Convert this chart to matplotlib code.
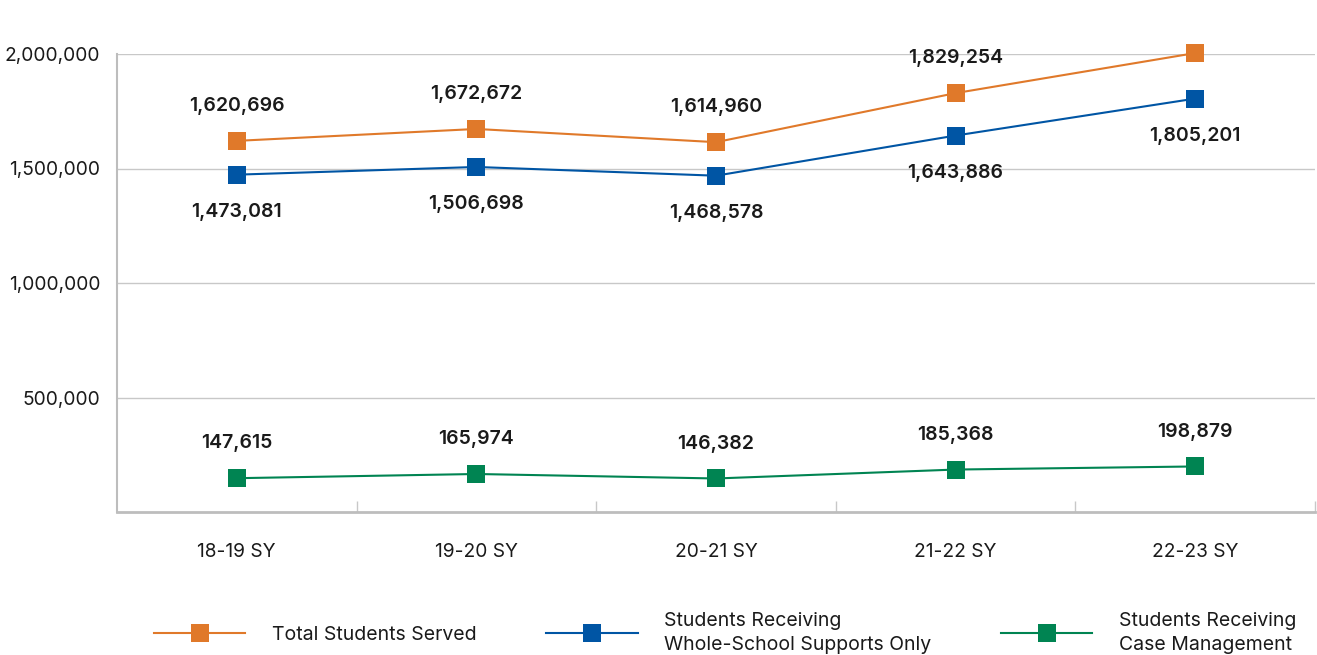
import matplotlib
matplotlib.use("Agg")
import matplotlib.pyplot as plt
from matplotlib.ticker import FuncFormatter, FixedLocator

plt.rcParams['font.family'] = ['Inter', 'DejaVu Sans']

categories = ["18-19 SY", "19-20 SY", "20-21 SY", "21-22 SY", "22-23 SY"]
total_served = [1620696, 1672672, 1614960, 1829254, 2004080]
whole_school = [1473081, 1506698, 1468578, 1643886, 1805201]
case_mgmt = [147615, 165974, 146382, 185368, 198879]
series_names = ["Total Students Served",
                "Students Receiving\nWhole-School Supports Only",
                "Students Receiving\nCase Management"]
colors = ["#E0792A", "#0055A4", "#008452"]
label_pos = ["above", "below", "above"]

fig = plt.figure(figsize=(13.17, 6.55), dpi=100)
ax = fig.add_axes([117/1317, 1-512/655, (1315-117)/1317, (512-54)/655])

x = list(range(len(categories)))
handles = []
for vals, name, col, pos in zip([total_served, whole_school, case_mgmt], series_names, colors, label_pos):
    h, = ax.plot(x, vals, color=col, lw=1.5, marker='s', markersize=12.5,
                 markeredgewidth=0, label=name, clip_on=False, zorder=3)
    handles.append(h)
    for xi, v in zip(x, vals):
        off = 25 if pos == "above" else -27
        ax.annotate(f"{v:,}", (xi, v), xytext=(0, off), textcoords='offset points',
                    ha='center', va='center', fontsize=14, fontweight='semibold',
                    color='#1a1a1a')

ax.set_xlim(-0.5, 4.5)
ax.set_ylim(0, 2000000)
ax.set_yticks([500000, 1000000, 1500000, 2000000])
ax.yaxis.set_major_formatter(FuncFormatter(lambda v, p: f"{int(v):,}"))
ax.grid(axis='y', color='#c8c8c8', lw=1.0)
ax.set_axisbelow(True)
ax.set_xticks(x)
ax.set_xticklabels(categories)
ax.xaxis.set_minor_locator(FixedLocator([0.5, 1.5, 2.5, 3.5, 4.5]))
ax.tick_params(axis='x', which='major', length=0, pad=22, labelsize=13.8, labelcolor='#1a1a1a')
ax.tick_params(axis='x', which='minor', length=8, direction='in', color='#c8c8c8', width=1)
ax.tick_params(axis='y', length=0, pad=12, labelsize=13.8, labelcolor='#1a1a1a')

for s in ['top', 'right']:
    ax.spines[s].set_visible(False)
ax.spines['left'].set_color('#bdbdbd')
ax.spines['left'].set_linewidth(1.5)
ax.spines['bottom'].set_color('#bdbdbd')
ax.spines['bottom'].set_linewidth(2)

leg = fig.legend(handles=handles, loc='center left', bbox_to_anchor=(154/1317, 1-633/655),
                 ncol=3, frameon=False, fontsize=14, handlelength=4.7, handletextpad=1.35,
                 columnspacing=3.6, borderpad=0, borderaxespad=0, numpoints=1,
                 labelcolor='#1a1a1a')
for t in leg.get_texts():
    t.set_linespacing(1.4)

fig.savefig("out.png", dpi=100)
